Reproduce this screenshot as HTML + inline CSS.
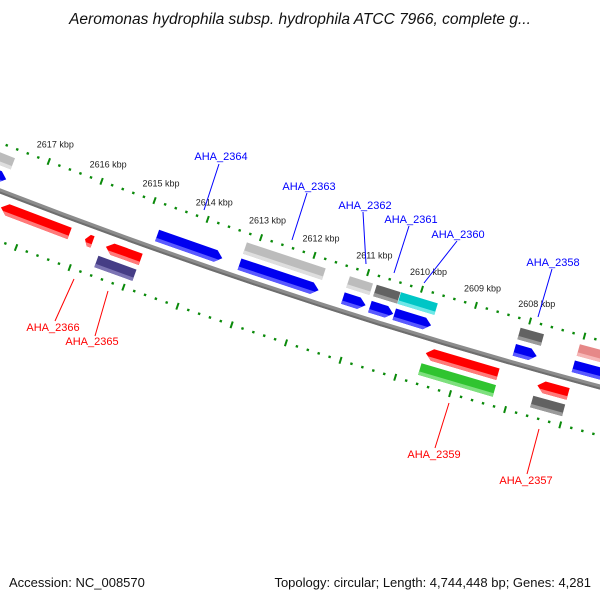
<!DOCTYPE html>
<html><head><meta charset="utf-8"><style>
html,body{margin:0;padding:0;background:#fff;}
svg{display:block;font-family:"Liberation Sans",sans-serif;}
</style></head><body>
<svg id="map" width="600" height="600" viewBox="0 0 600 600">
<rect width="600" height="600" fill="#fff"/>
<text x="300" y="24" text-anchor="middle" font-size="15.5" font-style="italic" fill="#111">Aeromonas hydrophila subsp. hydrophila ATCC 7966, complete g...</text>
<g id="rulers"></g>
<circle cx="2106" cy="-5240" r="5825" fill="none" stroke="#8c8c8c" stroke-width="5"/>
<circle cx="2106" cy="-5240" r="5826.5" fill="none" stroke="#6e6e6e" stroke-width="2"/>
<g id="genes"></g>
<g id="labels"></g>
<text x="9" y="587" font-size="13" fill="#111">Accession: NC_008570</text>
<text x="591" y="587" text-anchor="end" font-size="13" fill="#111">Topology: circular; Length: 4,744,448 bp; Genes: 4,281</text>
</svg>
<script>
// ---- data ----
const geneStartKbp = [2618.2, 2618.2, 2614.75, 2613.21, 2613.21, 2611.29, 2611.29, 2610.79, 2610.79, 2610.34, 2610.34, 2608.13, 2608.13, 2607.04, 2607.05, 2617.50, 2615.92, 2615.53, 2615.60, 2609.61, 2609.63, 2607.57, 2607.59];
const geneEndKbp   = [2617.59, 2617.58, 2613.53, 2611.74, 2611.74, 2610.86, 2610.87, 2610.35, 2610.36, 2609.66, 2609.66, 2607.70, 2607.72, 2606.2, 2606.2, 2616.21, 2615.78, 2614.88, 2614.89, 2608.29, 2608.27, 2607.01, 2607.01];
const geneLane     = ['fwd1','fwd2','fwd1','fwd2','fwd1','fwd2','fwd1','fwd2','fwd1','fwd2','fwd1','fwd2','fwd1','fwd2','fwd1','rev1','rev1','rev1','rev2','rev1','rev2','rev1','rev2'];
const geneKind     = ['blue','lgray','blue','lgray','blue','lgray','blue','dgray','blue','cyan','blue','dgray','blue','pink','blue','red','red','red','purple','red','green','red','dgray'];
const tickKbp = [2617, 2616, 2615, 2614, 2613, 2612, 2611, 2610, 2609, 2608];
const tickLabels = ['2617 kbp','2616 kbp','2615 kbp','2614 kbp','2613 kbp','2612 kbp','2611 kbp','2610 kbp','2609 kbp','2608 kbp'];

// ---- geometry ----
const CX = 2106, CY = -5240, R = 5825, A0 = 108.06 * Math.PI / 180;
function xScale(kbp) { return 114 + (2610 - kbp) * 56.8; }
function pt(u, v) { const a = A0 - u / R, r = R + v; return [CX + r * Math.cos(a), CY + r * Math.sin(a)]; }
const laneV = {fwd1: -13, fwd2: -30, rev1: 15, rev2: 32};
const colors = {
  blue: ['#0000f0', '#5a5aff'], lgray: ['#bcbcbc', '#dedede'], dgray: ['#626262', '#9a9a9a'],
  cyan: ['#00c6c6', '#6ee8e8'], pink: ['#e68888', '#f6b6b6'], red: ['#ff0000', '#ff7a7a'],
  purple: ['#463d86', '#7c74b4'], green: ['#30c430', '#7ee07e']
};
const NS = 'http://www.w3.org/2000/svg';
const svgGenes = document.getElementById('genes');
const svgRulers = document.getElementById('rulers');
const svgLabels = document.getElementById('labels');

function poly(pts) { return pts.map(p => p[0].toFixed(1) + ',' + p[1].toFixed(1)).join(' '); }

// ---- rulers ----
const rulerV = [-45, 47];
rulerV.forEach((rv, ri) => {
  for (let k = 0; k <= 70; k++) {
    const kbp = 2619 - k * 0.2;
    const u = xScale(kbp);
    const major = Math.abs(kbp - Math.round(kbp)) < 1e-6;
    const len = major ? 3.5 : 1.2;
    const a = pt(u, rv - len), b = pt(u, rv + len);
    const ln = document.createElementNS(NS, 'line');
    ln.setAttribute('x1', a[0]); ln.setAttribute('y1', a[1]);
    ln.setAttribute('x2', b[0]); ln.setAttribute('y2', b[1]);
    ln.setAttribute('stroke', '#0a8a0a');
    ln.setAttribute('stroke-width', major ? 2 : 2.4);
    
    
    svgRulers.appendChild(ln);
  }
});
tickKbp.forEach((kbp, i) => {
  const p = pt(xScale(kbp), -45);
  const t = document.createElementNS(NS, 'text');
  t.setAttribute('x', (p[0] - 12).toFixed(1));
  t.setAttribute('y', (p[1] - 14).toFixed(1));
  t.setAttribute('font-size', '9');
  t.setAttribute('fill', '#222');
  t.textContent = tickLabels[i];
  
  
  svgRulers.appendChild(t);
});

// ---- genes ----
geneStartKbp.forEach((s, i) => {
  const u1 = xScale(s), u2 = xScale(geneEndKbp[i]);
  const lane = geneLane[i], vc = laneV[lane], h = 6;
  const c = colors[geneKind[i]];
  const arrow = (geneKind[i] === 'blue' || geneKind[i] === 'red');
  const rightArrow = lane.startsWith('fwd');
  const tip = Math.min(7, (u2 - u1) * 0.5);
  function shape(vTop, vBot) {
    let pts;
    if (!arrow) {
      pts = [pt(u1, vTop), pt(u2, vTop), pt(u2, vBot), pt(u1, vBot)];
    } else if (rightArrow) {
      const ub = u2 - tip;
      const fTop = ub + tip * (vTop - (vc - h)) / h, fBot = ub + tip * ((vc + h) - vBot) / h;
      pts = [pt(u1, vTop), pt(Math.min(fTop, u2), vTop), pt(u2, vc), pt(Math.min(fBot, u2), vBot), pt(u1, vBot)];
      if (vTop > vc) pts = [pt(u1, vTop), pt(u2 - tip * (vTop - vc) / h, vTop), pt(u2 - tip, vBot), pt(u1, vBot)];
    } else {
      const ub = u1 + tip;
      pts = [pt(u2, vTop), pt(ub - tip * (vTop - (vc - h)) / h, vTop), pt(u1, vc), pt(ub - tip * ((vc + h) - vBot) / h, vBot), pt(u2, vBot)];
      if (vTop > vc) pts = [pt(u2, vTop), pt(u1 + tip * (vTop - vc) / h, vTop), pt(u1 + tip, vBot), pt(u2, vBot)];
    }
    return poly(pts);
  }
  const g = document.createElementNS(NS, 'g');
  
  
  const main = document.createElementNS(NS, 'polygon');
  main.setAttribute('points', shape(vc - h, vc + h));
  main.setAttribute('fill', c[0]);
  
  
  g.appendChild(main);
  const strip = document.createElementNS(NS, 'polygon');
  strip.setAttribute('points', shape(vc + 2.5, vc + h));
  strip.setAttribute('fill', c[1]);
  
  
  g.appendChild(strip);
  svgGenes.appendChild(g);
});

// ---- gene labels (annotations) ----
const labelText = ['AHA_2364','AHA_2363','AHA_2362','AHA_2361','AHA_2360','AHA_2358','AHA_2366','AHA_2365','AHA_2359','AHA_2357'];
const labelPos = [[221,160],[309,190],[365,209],[411,223],[458,238],[553,266],[53,331],[92,345],[434,458],[526,484]];
const leaderLines = [[219,164,204,210],[307,193,292,240],[363,212,366,264],[409,226,394,273],[457,241,424,283],[552,269,538,317],[74,279,55,321],[108,291,95,336],[449,403,435,448],[539,429,527,474]];
labelText.forEach((txt, i) => {
  const col = i < 6 ? '#0000ff' : '#ff0000';
  const l = leaderLines[i];
  const ln = document.createElementNS(NS, 'line');
  ln.setAttribute('x1', l[0]); ln.setAttribute('y1', l[1]);
  ln.setAttribute('x2', l[2]); ln.setAttribute('y2', l[3]);
  ln.setAttribute('stroke', col); ln.setAttribute('stroke-width', '1');
  
  
  svgLabels.appendChild(ln);
  const t = document.createElementNS(NS, 'text');
  t.setAttribute('x', labelPos[i][0]); t.setAttribute('y', labelPos[i][1]);
  t.setAttribute('text-anchor', 'middle');
  t.setAttribute('font-size', '11');
  t.setAttribute('fill', col);
  t.textContent = txt;
  
  
  svgLabels.appendChild(t);
});
</script>
</body></html>
